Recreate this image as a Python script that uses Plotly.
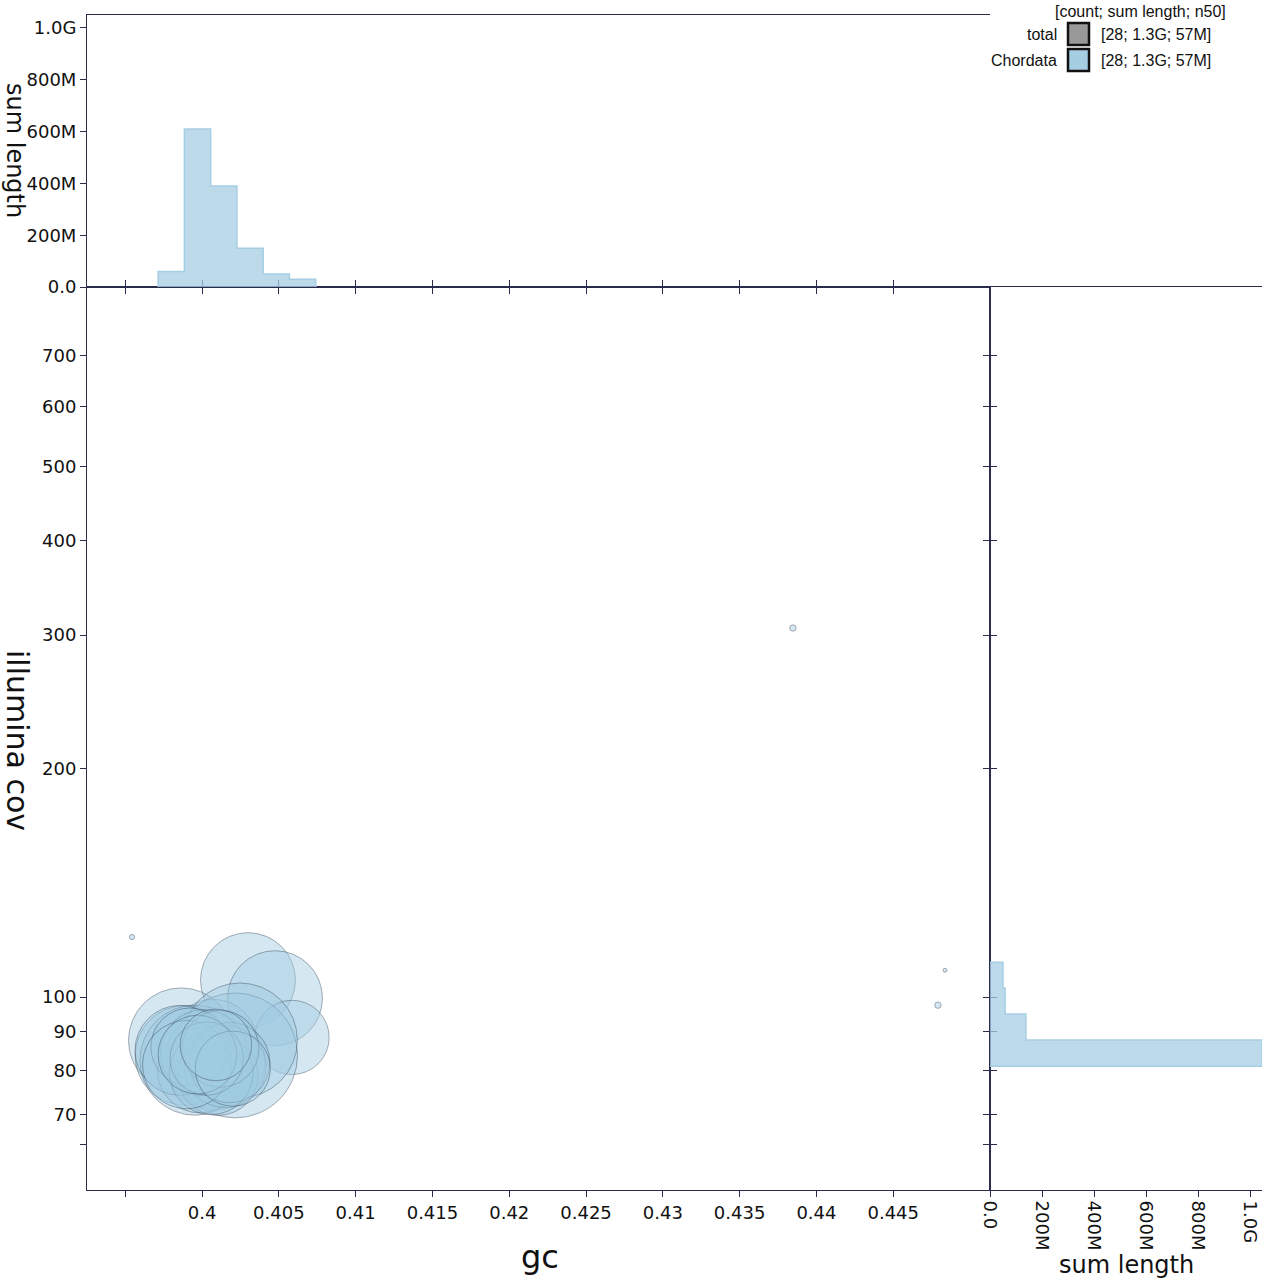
import numpy as np
import plotly.graph_objects as go

# blobs
gc = [0.39544, 0.44791, 0.44837, 0.43847, 0.40299, 0.40475, 0.40586, 0.40071, 0.39863, 0.39889,
      0.39954, 0.40084, 0.40215, 0.40247, 0.39987, 0.40104, 0.39856, 0.40010, 0.40150, 0.39920,
      0.40060, 0.40180, 0.39900, 0.40120, 0.40030, 0.39970, 0.40200, 0.40090]
cov = [120.0, 97.6, 108.5, 306.6, 105.3, 99.7, 88.5, 86.7, 87.7, 83.8,
       82.6, 82.6, 83.8, 87.7, 80.1, 78.9, 85.1, 84.5, 81.0, 86.0,
       79.5, 82.0, 81.5, 85.5, 83.0, 84.0, 80.5, 86.5]
length_mb = [0.2, 0.3, 0.1, 0.3, 67, 67, 41, 60, 82, 74,
             90, 74, 116, 98, 54, 48, 60, 55, 50, 45,
             52, 48, 58, 44, 40, 46, 42, 38]

# top histogram (sum length by gc)
gc_edges = [0.39714, 0.39885, 0.40056, 0.40227, 0.40398, 0.40569, 0.40740]
gc_sum = [60e6, 610e6, 390e6, 150e6, 50e6, 30e6]
# right histogram (sum length by cov)
cov_edges = [81.1, 87.8, 95.0, 102.8, 111.2]
cov_sum = [1046e6, 138e6, 58e6, 50e6]

LINE = "rgba(166,206,227,1)"
AX = "#2b2b4b"
FONT = "DejaVu Sans"

sizes = [110 * np.sqrt(l / 90) for l in length_mb]
sizes = [max(s, 4) for s in sizes]

fig = go.Figure()
fig.add_trace(go.Scatter(x=gc, y=cov, mode="markers", xaxis="x", yaxis="y",
    marker=dict(size=sizes, sizemode="diameter", color="rgba(160,203,226,0.62)",
                line=dict(color="rgba(60,75,95,0.65)", width=1))))

tx = []; ty = []
for i, v in enumerate(gc_sum):
    tx += [gc_edges[i], gc_edges[i+1]]; ty += [v, v]
tx = [gc_edges[0]] + tx + [gc_edges[-1]]; ty = [0] + ty + [0]
fig.add_trace(go.Scatter(x=tx, y=ty, fill="tozeroy", mode="lines", xaxis="x2", yaxis="y2",
    line=dict(color=LINE, width=1.5), fillcolor="rgba(166,206,227,0.75)"))

rx = []; ry = []
for i, v in enumerate(cov_sum):
    ry += [cov_edges[i], cov_edges[i+1]]; rx += [v, v]
ry = [cov_edges[0]] + ry + [cov_edges[-1]]; rx = [0] + rx + [0]
fig.add_trace(go.Scatter(x=rx, y=ry, fill="tozerox", mode="lines", xaxis="x3", yaxis="y3",
    line=dict(color=LINE, width=1.5), fillcolor="rgba(166,206,227,0.75)"))

xr = [0.39251, 0.45130]
yr = [np.log10(55.7), np.log10(863)]
xd = [87/1265, 990/1265]
rd = [990/1265, 1262/1265]
yd = [1-1190/1280, 1-287/1280]
td = [1-287/1280, 1-15/1280]
tick = dict(ticks="outside", ticklen=6, tickcolor=AX, showgrid=False, zeroline=False, automargin=False,
            showline=True, linecolor=AX, linewidth=1, tickfont=dict(family=FONT, size=18, color="#111"))

xt = [0.395, 0.4, 0.405, 0.41, 0.415, 0.42, 0.425, 0.43, 0.435, 0.44, 0.445]
xl = [""] + ["0.4", "0.405", "0.41", "0.415", "0.42", "0.425", "0.43", "0.435", "0.44", "0.445"]
yt = [64, 70, 80, 90, 100, 200, 300, 400, 500, 600, 700]
yl = ["", "70", "80", "90", "100", "200", "300", "400", "500", "600", "700"]
st = [0, 2e8, 4e8, 6e8, 8e8, 1e9]
sl = ["0.0", "200M", "400M", "600M", "800M", "1.0G"]

fig.update_layout(
    width=1265, height=1280, margin=dict(l=0, r=0, t=0, b=0, autoexpand=False),
    paper_bgcolor="white", plot_bgcolor="white", showlegend=False,
    xaxis=dict(domain=xd, range=xr, tickvals=xt, ticktext=xl, mirror="ticks", anchor="y", **tick),
    yaxis=dict(domain=yd, type="log", range=yr, tickvals=yt, ticktext=yl, mirror="ticks", anchor="x", **tick),
    xaxis2=dict(domain=xd, range=xr, anchor="y2", showticklabels=False, tickvals=xt, mirror=True, **tick),
    yaxis2=dict(domain=td, range=[0, 1.05e9], anchor="x2", tickvals=st, ticktext=sl, **tick),
    xaxis3=dict(domain=rd, range=[0, 1.046e9], anchor="y3", tickvals=st, ticktext=sl, tickangle=90, mirror=True, **tick),
    yaxis3=dict(domain=yd, type="log", range=yr, anchor="x3", showticklabels=False, tickvals=yt, **tick),
)
def ann(text, x, y, size, angle=0, **kw):
    fig.add_annotation(text=text, x=x/1265, y=1-y/1280, xref="paper", yref="paper", showarrow=False,
                       textangle=angle, font=dict(family=FONT, size=size, color="#111"), **kw)
ann("gc", 540, 1257, 32, xanchor="center", yanchor="middle")
ann("illumina cov", 18, 740, 30, 90, xanchor="center", yanchor="middle")
ann("sum length", 15, 150, 24, 90, xanchor="center", yanchor="middle")
ann("sum length", 1126, 1265, 24, xanchor="center", yanchor="middle")
LF = dict(family="Liberation Sans", size=16, color="#111")
fig.add_annotation(text="[count; sum length; n50]", x=1228/1265, y=1-1/1280, xref="paper", yref="paper",
                   showarrow=False, xanchor="right", yanchor="top", font=LF)
for row, (name, col) in enumerate([("total", "#999999"), ("Chordata", "#a6cee3")]):
    yc = 34 + row * 26
    fig.add_annotation(text=name, x=1059/1265, y=1-yc/1280, xref="paper", yref="paper",
                       showarrow=False, xanchor="right", yanchor="middle", font=LF)
    fig.add_annotation(text="[28; 1.3G; 57M]", x=1099/1265, y=1-yc/1280, xref="paper", yref="paper",
                       showarrow=False, xanchor="left", yanchor="middle", font=LF)
    fig.add_shape(type="rect", xref="paper", yref="paper", x0=1068/1265, x1=1089/1265,
                  y0=1-(yc+11)/1280, y1=1-(yc-11)/1280, fillcolor=col, line=dict(color="#111", width=2.5))
fig.write_html("out.html", config={"displayModeBar": False})
with open("out.html") as f:
    html = f.read()
html = html.replace("<body>", "<body style=\"margin:0;overflow:hidden\">", 1)
with open("out.html", "w") as f:
    f.write(html)
